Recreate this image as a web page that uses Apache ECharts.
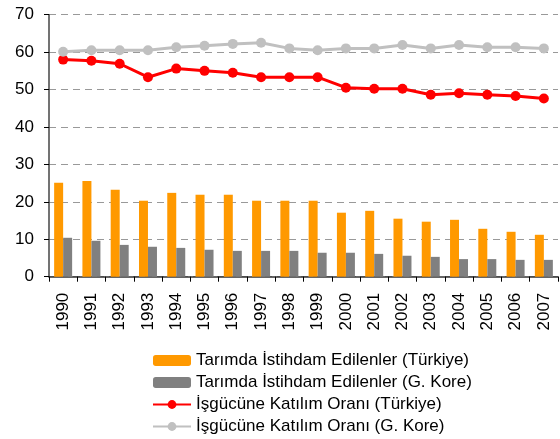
<!DOCTYPE html>
<html>
<head>
<meta charset="utf-8">
<script src="https://cdn.jsdelivr.net/npm/echarts@6/dist/echarts.min.js"></script>
<style>
html,body{margin:0;padding:0;background:#fff;}
#c{width:560px;height:439px;}
</style>
</head>
<body>
<div id="c"></div>
<script>
var years = ['1990','1991','1992','1993','1994','1995','1996','1997','1998','1999','2000','2001','2002','2003','2004','2005','2006','2007'];
var tarimTurkiye = [25.1,25.6,23.2,20.3,22.4,21.9,21.9,20.3,20.3,20.3,17.1,17.6,15.5,14.7,15.2,12.8,12.0,11.2];
var tarimKore = [10.4,9.6,8.5,8.0,7.7,7.2,6.9,6.9,6.9,6.4,6.4,6.1,5.6,5.3,4.7,4.7,4.5,4.5];
var katilimTurkiye = [58.0,57.7,56.9,53.3,55.6,55.0,54.5,53.3,53.3,53.3,50.5,50.2,50.2,48.6,49.0,48.6,48.3,47.6];
var katilimKore = [60.1,60.5,60.5,60.5,61.3,61.7,62.2,62.5,61.0,60.5,61.0,61.0,61.9,61.0,61.9,61.3,61.3,61.0];
var seriesNames = ['Tarımda İstihdam Edilenler (Türkiye)','Tarımda İstihdam Edilenler (G. Kore)','İşgücüne Katılım Oranı (Türkiye)','İşgücüne Katılım Oranı (G. Kore)'];

var chart = echarts.init(document.getElementById('c'), null, {renderer:'canvas'});
var font = 'Liberation Sans, Arial, sans-serif';
chart.setOption({
  animation:false,
  textStyle:{fontFamily:font},
  grid:{left:49,right:2,top:14.7,bottom:162.3,containLabel:false},
  legend:{
    orient:'vertical', left:152, top:352, height:87, padding:0,
    itemWidth:38, itemHeight:11, itemGap:5, align:'left',
    textStyle:{fontSize:17, color:'#000', fontFamily:font, lineHeight:17},
    data:seriesNames
  },
  xAxis:{
    type:'category', data:years, boundaryGap:true,
    axisLine:{lineStyle:{color:'#333',width:1.5}},
    axisTick:{show:true,alignWithLabel:false,length:5,lineStyle:{color:'#000'}},
    axisLabel:{rotate:90,fontSize:17,color:'#000',margin:16,interval:0,fontFamily:font},
    splitLine:{show:false}
  },
  yAxis:{
    type:'value', min:0, max:70, interval:10,
    axisLine:{show:true,lineStyle:{color:'#444',width:1.5}},
    axisTick:{show:true,length:5,lineStyle:{color:'#000'}},
    axisLabel:{fontSize:17,color:'#000',margin:15,fontFamily:font},
    splitLine:{show:true,lineStyle:{color:'#999',type:[7,5],width:1}}
  },
  series:[
    {name:seriesNames[0],type:'bar',data:tarimTurkiye,barWidth:9,barGap:'0%',itemStyle:{color:'#FF9900'}},
    {name:seriesNames[1],type:'bar',data:tarimKore,barWidth:9,barGap:'0%',itemStyle:{color:'#808080'}},
    {name:seriesNames[2],type:'line',data:katilimTurkiye,symbol:'circle',symbolSize:10,
      lineStyle:{color:'#FF0000',width:3},itemStyle:{color:'#FF0000'}},
    {name:seriesNames[3],type:'line',data:katilimKore,symbol:'circle',symbolSize:10,
      lineStyle:{color:'#C0C0C0',width:3},itemStyle:{color:'#C0C0C0'}}
  ]
});
</script>
</body>
</html>
